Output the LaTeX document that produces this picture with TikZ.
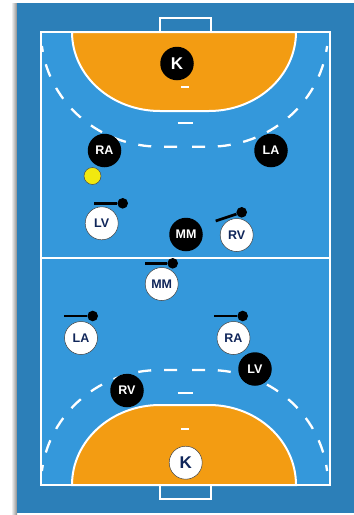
\documentclass[tikz,border=0pt]{standalone}
\usepackage{fontspec}
\setmainfont{Liberation Sans}
\definecolor{cfield}{RGB}{52,152,219}
\definecolor{cborder}{RGB}{44,127,184}
\definecolor{carea}{RGB}{243,156,18}
\definecolor{cball}{RGB}{241,233,15}
\definecolor{cnavy}{RGB}{16,38,90}
\begin{document}
\begin{tikzpicture}[x=1pt, y=-1pt,
    courtline/.style={draw=white, line width=2pt},
    freeline/.style={draw=white, line width=2.3pt, dash pattern=on 13pt off 12.8pt, dash phase=18.3pt},
    attack/.style={circle, draw=black!75, line width=0.5pt, fill=white, text=cnavy, minimum size=33pt,
      inner sep=0pt, font=\fontsize{12.5}{14}\selectfont\bfseries},
    defend/.style={circle, fill=black, text=white, minimum size=33.5pt,
      inner sep=0pt, font=\fontsize{12.5}{14}\selectfont\bfseries},
    keeper/.style={font=\fontsize{17}{19}\selectfont\bfseries},
    armdot/.style={circle, fill=black, minimum size=10.6pt, inner sep=0pt},
    arm/.style={draw=black, line width=2.7pt}]

  \useasboundingbox (0,0) rectangle (354,515);

  % --- Court ---
  \shade[left color=white, right color=black!45] (11,3) rectangle (17,514);
  \fill[cborder] (17,3) rectangle (354,513);
  \fill[cfield] (41,32) rectangle (330,485);

  % --- Goal areas (top, then bottom) ---
  \draw[courtline, fill=carea] (72,32) arc[start angle=180, end angle=270, x radius=88pt, y radius=79pt]
        -- (209,111) arc[start angle=270, end angle=360, x radius=87pt, y radius=79pt] -- cycle;
  \draw[courtline, fill=carea] (72,485) arc[start angle=180, end angle=90, x radius=88pt, y radius=80pt]
        -- (209,405) arc[start angle=90, end angle=0, x radius=87pt, y radius=80pt] -- cycle;

  % --- Free throw lines, drawn outward from the middle ---
  \draw[freeline] (184.5,146.7) -- (160,146.7) arc[start angle=270, end angle=187, x radius=119pt, y radius=114.7pt];
  \draw[freeline] (184.5,146.7) -- (209,146.7) arc[start angle=270, end angle=353, x radius=119pt, y radius=114.7pt];
  \draw[freeline] (184.5,370) -- (160,370) arc[start angle=90, end angle=173, x radius=119pt, y radius=115pt];
  \draw[freeline] (184.5,370) -- (209,370) arc[start angle=90, end angle=7, x radius=119pt, y radius=115pt];

  % --- Court lines ---
  \draw[courtline] (41,32) rectangle (330,485);
  \draw[courtline] (41,258) -- (330,258);
  \draw[courtline] (160,32) -- (160,18) -- (211,18) -- (211,32);
  \draw[courtline] (160,485) -- (160,499) -- (211,499) -- (211,485);
  \foreach \xa/\xb/\ypos in {177.5/193/123, 181/189/87, 177.5/193/393, 181/189/429}
    \draw[courtline] (\xa,\ypos) -- (\xb,\ypos);

  % --- Defending team ---
  \node[defend, keeper] (defK) at (177,63.5) {K};
  \node[defend] (defRA) at (104.5,150.5) {RA};
  \node[defend] (defLA) at (271,150.5) {LA};
  \node[defend] (defMM) at (186,234.5) {MM};
  \node[defend] (defLV) at (255,369) {LV};
  \node[defend] (defRV) at (127,390.5) {RV};

  % --- Attacking team ---
  \node[attack] (attLV) at (101.7,223.3) {LV};
  \node[attack] (attRV) at (236.7,235) {RV};
  \node[attack] (attMM) at (161.7,284) {MM};
  \node[attack] (attLA) at (81,338) {LA};
  \node[attack] (attRA) at (233.5,338) {RA};
  \node[attack, keeper] (attK) at (185.7,462.7) {K};

  % --- Arms ---
  \foreach \who/\xa/\ya/\xb/\yb in {LV/94.3/203.3/122.7/203.3, RV/215.7/221/241.7/212.3,
      MM/145/263.3/172.7/263.3, LA/64.3/316/92.7/316, RA/214/316/242.7/316} {
    \coordinate (arm\who) at (\xa,\ya);
    \node[armdot] (hand\who) at (\xb,\yb) {};
    \draw[arm] (arm\who) -- (hand\who);
  }

  \node[circle, draw=black!70, line width=0.5pt, fill=cball, minimum size=17pt, inner sep=0pt] (ball) at (92.5,176) {};
\end{tikzpicture}
\end{document}
